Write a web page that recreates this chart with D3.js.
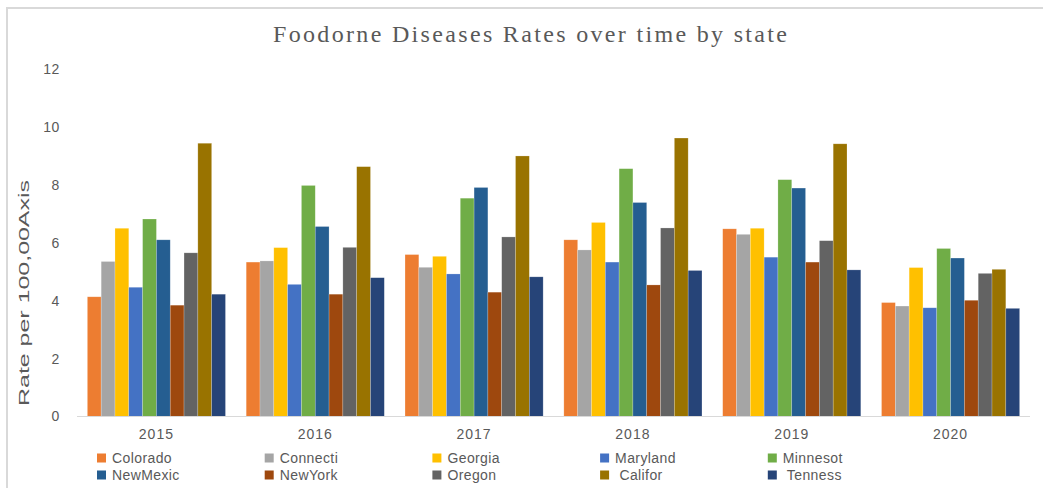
<!DOCTYPE html>
<html>
<head>
<meta charset="utf-8">
<script src="https://cdn.jsdelivr.net/npm/d3@7/dist/d3.min.js"></script>
<style>
  html, body { margin: 0; padding: 0; background: #fff; }
  svg { display: block; }
  text { font-family: "Liberation Sans", Arial, sans-serif; fill: #595959; }
</style>
</head>
<body>
<svg id="chart" width="1043" height="488"></svg>
<script>
// Rates per 100,000 by year and state
const years = ["2015", "2016", "2017", "2018", "2019", "2020"];
const states = ["Colorado", "Connecti", "Georgia", "Maryland", "Minnesot",
                "NewMexic", "NewYork", "Oregon", " Califor", " Tenness"];
const colors = ["#ED7D31", "#A5A5A5", "#FFC000", "#4472C4", "#70AD47",
                "#255E91", "#9E480E", "#636363", "#997300", "#264478"];

const colorado = [4.14, 5.34, 5.60, 6.11, 6.49, 3.94];
const connecti = [5.36, 5.38, 5.16, 5.76, 6.30, 3.82];
const georgia  = [6.51, 5.84, 5.54, 6.71, 6.51, 5.15];
const maryland = [4.47, 4.57, 4.93, 5.34, 5.51, 3.76];
const minnesot = [6.83, 7.99, 7.55, 8.57, 8.19, 5.81];
const newmexic = [6.11, 6.57, 7.92, 7.40, 7.90, 5.48];
const newyork  = [3.85, 4.23, 4.30, 4.55, 5.34, 4.02];
const oregon   = [5.66, 5.85, 6.21, 6.52, 6.08, 4.95];
const califor  = [9.45, 8.64, 9.01, 9.63, 9.43, 5.09];
const tenness  = [4.23, 4.80, 4.83, 5.05, 5.07, 3.74];

const yTicks = [0, 2, 4, 6, 8, 10, 12];

const seriesValues = [colorado, connecti, georgia, maryland, minnesot,
                      newmexic, newyork, oregon, califor, tenness];

const svg = d3.select("#chart");

// chart frame
svg.append("path")
  .attr("d", "M7,495 L7,8 L1050,8")
  .attr("fill", "none")
  .attr("stroke", "#d9d9d9")
  .attr("stroke-width", 2);

// title
svg.append("text")
  .attr("x", 530).attr("y", 42)
  .attr("text-anchor", "middle")
  .attr("textLength", 514)
  .attr("lengthAdjust", "spacing")
  .style("font-family", "'Liberation Serif', 'Times New Roman', serif")
  .style("font-size", "24px")
  .style("fill", "#595959")
  .text("Foodorne Diseases Rates over time by state");

const plot = { left: 77, right: 1030, top: 69.5, bottom: 416.5 };

const x0 = d3.scaleBand().domain(years).range([plot.left, plot.right]).padding(0);
const edge = x0.bandwidth() * 0.75 / 11.5;
const x1 = d3.scaleBand().domain(d3.range(states.length))
  .range([edge, x0.bandwidth() - edge]).padding(0);
const y = d3.scaleLinear().domain([0, 12]).range([plot.bottom, plot.top]);

// bars
const groups = svg.append("g").selectAll("g")
  .data(years)
  .join("g")
  .attr("transform", d => `translate(${x0(d)},0)`);

groups.selectAll("rect")
  .data((yr, i) => seriesValues.map((vals, s) => ({ s, v: vals[i] })))
  .join("rect")
  .attr("x", d => x1(d.s))
  .attr("width", x1.bandwidth())
  .attr("y", d => y(d.v))
  .attr("height", d => y(0) - y(d.v))
  .attr("fill", d => colors[d.s])
  .attr("stroke", "rgba(255,255,255,0.35)")
  .attr("stroke-width", 0.6);

// baseline
svg.append("line")
  .attr("x1", plot.left).attr("x2", plot.right)
  .attr("y1", y(0)).attr("y2", y(0))
  .attr("stroke", "#d9d9d9").attr("stroke-width", 1.2);

// y axis labels
const yAxis = svg.append("g")
  .attr("transform", `translate(${plot.left},0)`)
  .call(d3.axisLeft(y).tickValues(yTicks).tickSize(0).tickPadding(17));
yAxis.select(".domain").remove();
yAxis.selectAll("text")
  .style("font-size", "14px")
  .style("letter-spacing", "0.6px")
  .style("fill", "#595959")
  .style("font-family", "'Liberation Sans', Arial, sans-serif");

// x axis labels
const xAxis = svg.append("g")
  .attr("transform", `translate(0,${plot.bottom})`)
  .call(d3.axisBottom(x0).tickSize(0).tickPadding(13));
xAxis.select(".domain").remove();
xAxis.selectAll("text")
  .style("font-size", "14px")
  .style("letter-spacing", "1px")
  .style("fill", "#595959")
  .style("font-family", "'Liberation Sans', Arial, sans-serif");

// y axis title
svg.append("text")
  .attr("transform", "translate(29,293) rotate(-90)")
  .attr("text-anchor", "middle")
  .attr("textLength", 226)
  .attr("lengthAdjust", "spacingAndGlyphs")
  .style("font-family", "'Liberation Sans Narrow', 'Liberation Sans', Arial, sans-serif")
  .style("font-size", "14px")
  .style("fill", "#595959")
  .text("Rate per 100,00Axis");

// legend
const legend = svg.append("g");
const items = legend.selectAll("g")
  .data(states)
  .join("g")
  .attr("transform", (d, i) => `translate(${97 + (i % 5) * 167.7},${i < 5 ? 458 : 475})`);
items.append("rect")
  .attr("x", 0).attr("y", -4.5)
  .attr("width", 9).attr("height", 9)
  .attr("fill", (d, i) => colors[i]);
items.append("text")
  .attr("x", 15).attr("y", 5)
  .style("font-size", "14px")
  .style("letter-spacing", "0.4px")
  .style("white-space", "pre")
  .style("fill", "#595959")
  .text(d => d);
</script>
</body>
</html>
